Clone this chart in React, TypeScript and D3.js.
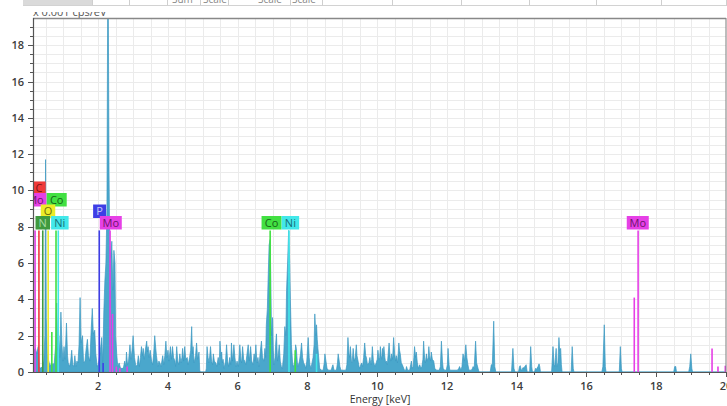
import React from 'react';
import * as d3 from 'd3';

const W = 727;
const H = 406;
const PLOT = { left: 33, right: 726, top: 18, bottom: 372 };

const X_DOMAIN: [number, number] = [0.13, 20];
const Y_DOMAIN: [number, number] = [0, 19.5];

const xTickValues = [2, 4, 6, 8, 10, 12, 14, 16, 18, 20];
const yTickValues = [0, 2, 4, 6, 8, 10, 12, 14, 16, 18];
const xTitle = 'Energy [keV]';
const yUnit = 'x 0.001 cps/eV';

// EDS spectrum [keV, counts (x0.001 cps/eV)]
const spectrumLow: [number, number][] = [
  [0.13, 0], [0.131, 1.3], [0.16, 1.2], [0.2, 1.3], [0.24, 1.0], [0.28, 1.4], [0.31, 0.3], [0.35, 0.2],
  [0.4, 0.3], [0.44, 0.6], [0.47, 2.0], [0.49, 11.7], [0.51, 3.0], [0.54, 1.0], [0.58, 0.6], [0.62, 0.3],
  [0.66, 0.5], [0.7, 0.4], [0.74, 0.5], [0.78, 1.5], [0.81, 3.8], [0.84, 1.2], [0.87, 2.0], [0.9, 0.8],
  [0.93, 3.3], [0.96, 1.5], [0.99, 0.6], [1.02, 1.4], [1.05, 0.7], [1.09, 2.7], [1.12, 0.9], [1.14, 0.5],
  [1.18, 0.3], [1.21, 0.6], [1.24, 1.2], [1.27, 0.4], [1.3, 0.3], [1.33, 0.9], [1.36, 0.3], [1.39, 0.6],
  [1.42, 0.5], [1.45, 1.5], [1.48, 4.1], [1.51, 1.6], [1.55, 2.0], [1.58, 0.5], [1.62, 0.6], [1.65, 1.2],
  [1.69, 1.8], [1.72, 0.9], [1.76, 0.6], [1.8, 2.4], [1.83, 3.5], [1.86, 2.1], [1.9, 2.3], [1.93, 1.0],
  [1.97, 0.3], [2.0, 0.4], [2.05, 1.0], [2.1, 1.9], [2.13, 0.5], [2.16, 3.3], [2.19, 5.0], [2.22, 6.0],
  [2.25, 9.0], [2.27, 19.8], [2.29, 19.8], [2.31, 11.0], [2.33, 7.0], [2.36, 6.3], [2.39, 7.2], [2.42, 4.5],
  [2.45, 6.7], [2.48, 6.0], [2.5, 2.0], [2.53, 1.0], [2.56, 0.3], [2.6, 0.5], [2.64, 0.2], [2.68, 0.2],
  [2.72, 0.2], [2.76, 0.6], [2.79, 0.3], [2.81, 1.1], [2.84, 0.4], [2.87, 0.6], [2.91, 1.5], [2.94, 0.7],
  [2.97, 1.2], [3.0, 2.0], [3.04, 0.8], [3.08, 0.3], [3.12, 0.4], [3.15, 0.9], [3.18, 0.3], [3.21, 0.8],
  [3.24, 1.4], [3.27, 0.9], [3.29, 1.3], [3.32, 0.7], [3.35, 1.2], [3.39, 1.7], [3.41, 1.1], [3.43, 1.4],
  [3.46, 0.8], [3.49, 1.2], [3.53, 0.6], [3.56, 0.4], [3.59, 1.0], [3.62, 2.0], [3.65, 1.3], [3.67, 0.9],
  [3.71, 0.3], [3.74, 0.6], [3.77, 0.5], [3.8, 0.3], [3.85, 0.9], [3.88, 0.4], [3.91, 0.9], [3.94, 1.7],
  [3.97, 0.8], [4.0, 1.2], [4.03, 0.6], [4.07, 1.4], [4.1, 0.7], [4.13, 1.4], [4.16, 0.8], [4.2, 0.6],
  [4.22, 0.3], [4.25, 1.4], [4.28, 0.6], [4.31, 0.4], [4.34, 1.0], [4.37, 0.5], [4.4, 0.8], [4.42, 1.3],
  [4.45, 0.6], [4.48, 1.4], [4.51, 0.7], [4.55, 0.8], [4.58, 0.4], [4.62, 0.8], [4.65, 1.2], [4.68, 2.5],
  [4.7, 1.0], [4.72, 1.4], [4.75, 0.5], [4.79, 0.9], [4.82, 1.6], [4.85, 0.7], [4.89, 1.1], [4.91, 0.1],
  [4.93, 0], [5.08, 0],
];

const spectrumMid: [number, number][] = [
  [5.1, 0.2], [5.12, 1.4], [5.15, 0.8], [5.18, 0.5], [5.22, 1.4], [5.25, 0.6], [5.28, 0.4], [5.3, 1.0],
  [5.33, 0.6], [5.37, 0.5], [5.4, 0.3], [5.44, 0.8], [5.47, 0.4], [5.49, 1.7], [5.52, 0.9], [5.54, 1.1],
  [5.56, 0.5], [5.58, 0.7], [5.61, 0.2], [5.65, 0.6], [5.68, 1.5], [5.71, 0.6], [5.74, 0.3], [5.77, 0.8],
  [5.8, 0.4], [5.82, 1.6], [5.85, 0.6], [5.89, 1.5], [5.92, 0.8], [5.95, 0.3], [5.98, 0.6], [6.02, 0.3],
  [6.06, 1.5], [6.09, 0.7], [6.11, 0.5], [6.14, 1.4], [6.17, 0.7], [6.2, 0.6], [6.23, 0.4], [6.26, 0.9],
  [6.3, 1.5], [6.33, 0.6], [6.37, 1.4], [6.4, 0.6], [6.44, 0.4], [6.47, 1.0], [6.49, 0.6], [6.52, 1.5],
  [6.55, 0.5], [6.58, 0.8], [6.61, 0.3], [6.64, 1.0], [6.68, 1.7], [6.71, 0.8], [6.75, 0.6], [6.78, 1.3],
  [6.8, 0.8], [6.82, 2.6], [6.85, 3.5], [6.87, 5.0], [6.9, 7.0], [6.93, 7.3], [6.95, 5.0], [6.97, 2.0],
  [7.0, 3.0], [7.02, 1.2], [7.04, 0.4], [7.07, 0.8], [7.09, 1.6], [7.11, 2.1], [7.14, 0.6], [7.17, 1.1],
  [7.19, 1.5], [7.22, 0.6], [7.25, 0.3], [7.28, 0.2], [7.32, 1.0], [7.35, 2.5], [7.38, 2.0], [7.4, 4.5],
  [7.43, 6.0], [7.46, 7.8], [7.49, 6.0], [7.51, 4.0], [7.54, 1.5], [7.57, 0.6], [7.59, 0.3], [7.62, 0.4],
  [7.64, 0.8], [7.66, 1.5], [7.68, 1.3], [7.71, 0.5], [7.73, 0.3], [7.77, 0.6], [7.8, 1.0], [7.83, 1.6],
  [7.86, 0.8], [7.89, 0.5], [7.92, 0.4], [7.95, 0.2], [7.98, 0.6], [8.02, 1.9], [8.05, 0.8], [8.07, 0.4],
  [8.1, 0.2], [8.13, 0.5], [8.16, 0.8], [8.19, 1.5], [8.21, 3.2], [8.24, 2.0], [8.26, 2.6], [8.28, 1.8],
  [8.3, 1.3], [8.33, 0.6], [8.35, 0.2], [8.4, 0.1], [8.45, 0.1], [8.48, 0.5], [8.5, 1.0], [8.53, 0.6],
  [8.56, 0.2], [8.6, 0.1], [8.68, 0.1], [8.71, 0.3], [8.73, 0.4], [8.76, 0.1], [8.83, 0.1], [8.86, 0.5],
  [8.88, 1.0], [8.91, 0.6], [8.93, 0.3], [8.96, 0.1], [9.1, 0.1], [9.13, 0.4], [9.16, 1.9], [9.19, 1.0],
  [9.21, 0.8], [9.23, 1.4], [9.26, 0.6], [9.28, 0.5], [9.31, 1.3], [9.34, 0.6], [9.37, 0.8], [9.4, 1.5],
  [9.42, 0.9], [9.45, 0.6], [9.48, 0.3], [9.5, 0.2], [9.53, 0.4], [9.55, 0.5], [9.58, 0.3], [9.61, 0.8],
  [9.64, 1.6], [9.67, 0.9], [9.69, 0.8], [9.72, 0.4], [9.76, 0.5], [9.79, 0.8], [9.82, 0.4], [9.84, 0.7],
  [9.86, 1.4], [9.89, 0.6], [9.93, 0.3], [9.97, 0.5],
];

const spectrumHigh: [number, number][] = [
  [10.0, 0.7], [10.02, 1.2], [10.05, 0.7], [10.07, 0.8], [10.09, 1.4], [10.11, 0.9], [10.13, 0.7], [10.15, 1.3],
  [10.17, 0.9], [10.19, 1.4], [10.22, 0.8], [10.24, 0.5], [10.26, 0.6], [10.29, 0.4], [10.31, 0.9], [10.34, 1.6],
  [10.37, 0.8], [10.39, 0.6], [10.41, 1.0], [10.44, 0.7], [10.47, 1.9], [10.5, 1.0], [10.53, 0.6], [10.55, 0.9],
  [10.58, 0.5], [10.6, 1.0], [10.62, 1.6], [10.64, 1.2], [10.66, 1.0], [10.69, 0.5], [10.72, 0.4], [10.74, 0.3],
  [10.78, 0.1], [10.82, 0.1], [10.84, 0.3], [10.87, 0.1], [10.93, 0.1], [10.96, 0.4], [10.98, 0.6], [11.0, 0.2],
  [11.03, 0.3], [11.05, 0.8], [11.07, 1.4], [11.1, 0.8], [11.12, 1.1], [11.15, 0.5], [11.18, 0.2], [11.22, 0.4],
  [11.25, 0.2], [11.28, 0.3], [11.31, 0.7], [11.33, 1.7], [11.36, 0.7], [11.38, 0.5], [11.41, 1.0], [11.43, 0.6],
  [11.46, 0.8], [11.48, 1.4], [11.5, 0.9], [11.53, 0.6], [11.55, 1.1], [11.58, 0.7], [11.62, 0.6], [11.65, 0.2],
  [11.7, 0.1], [11.78, 0.1], [11.81, 0.3], [11.84, 1.7], [11.87, 0.6], [11.89, 0.2], [11.93, 0.1], [11.98, 0.1],
  [12.01, 0.4], [12.03, 1.3], [12.06, 0.4], [12.08, 0.1], [12.2, 0.1], [12.3, 0.1], [12.34, 0.2], [12.36, 0.3],
  [12.4, 0.1], [12.43, 0.3], [12.46, 1.0], [12.5, 0.6], [12.54, 1.5], [12.57, 0.8], [12.6, 0.4], [12.63, 0.1],
  [12.7, 0.1], [12.73, 0.2], [12.75, 0.3], [12.78, 0.2], [12.82, 1.7], [12.85, 0.5], [12.89, 0.2], [12.92, 0],
  [13.24, 0], [13.27, 0.4], [13.3, 0.4], [13.34, 2.8], [13.37, 0.3], [13.4, 0],
  [13.85, 0], [13.89, 1.3], [13.92, 0.2], [13.95, 0],
  [14.05, 0], [14.08, 0.3], [14.1, 0.35], [14.13, 0.1], [14.16, 0.15], [14.18, 0.25], [14.21, 0.2], [14.23, 0.3],
  [14.25, 0.35], [14.27, 0.4], [14.3, 0],
  [14.37, 0], [14.4, 1.4], [14.43, 0.3], [14.45, 0],
  [14.51, 0], [14.54, 0.2], [14.56, 0.15], [14.58, 0.2], [14.61, 0.3], [14.64, 0.45], [14.66, 0.3], [14.68, 0],
  [15.0, 0], [15.04, 1.4], [15.07, 0.4], [15.09, 0.3], [15.11, 0.8], [15.13, 1.3], [15.15, 0.3], [15.18, 0.5],
  [15.21, 1.9], [15.23, 1.2], [15.26, 1.3], [15.28, 0.4], [15.3, 0],
  [15.56, 0], [15.59, 1.4], [15.62, 0.2], [15.64, 0],
  [16.44, 0], [16.47, 0.3], [16.51, 2.6], [16.54, 0.3], [16.56, 0],
  [16.94, 0], [16.97, 1.4], [17.0, 0.2], [17.02, 0],
  [18.5, 0], [18.53, 0.3], [18.56, 0.3], [18.58, 0],
  [18.93, 0], [18.96, 0.3], [18.99, 1.0], [19.02, 0.2], [19.04, 0], [20, 0],
];

const elementColors: Record<string, string> = {
  C: '#f03a3a',
  N: '#3f9a3f',
  O: '#ecec28',
  Co: '#42e042',
  Ni: '#42e8ea',
  P: '#3e3ee6',
  Mo: '#e640e6',
};

const elementTextColors: Record<string, string> = {
  C: '#7a1414',
  N: '#a6dca6',
  O: '#6e6e08',
  Co: '#166416',
  Ni: '#146e78',
  P: '#c4c4f6',
  Mo: '#6c146c',
};

// element marker lines: [element, keV, height]
const markerLines: [string, number, number][] = [
  ['P', 0.14, 7.8], ['Mo', 0.19, 7.8], ['C', 0.3, 7.8], ['N', 0.41, 7.8], ['O', 0.565, 7.8],
  ['Co', 0.67, 2.2], ['Co', 0.79, 7.8], ['Ni', 0.855, 7.8],
  ['P', 2.03, 7.8], ['P', 2.14, 0.5], ['Mo', 2.34, 7.8], ['Mo', 2.41, 3.2], ['Mo', 2.52, 0.3],
  ['Mo', 2.62, 0.2], ['Mo', 2.83, 0.3],
  ['Co', 6.93, 7.8], ['Co', 7.65, 1.2], ['Ni', 7.47, 7.8], ['Ni', 8.26, 1.0],
  ['Mo', 17.37, 4.1], ['Mo', 17.48, 7.8], ['Mo', 19.6, 1.3], ['Mo', 19.77, 0.3], ['Mo', 19.98, 0.35],
];

// labels: [element, keV centre, stack row]
const markerLabels: [string, number, number][] = [
  ['C', 0.3, 3], ['Mo', 0.2, 2], ['Co', 0.81, 2], ['O', 0.56, 1], ['N', 0.41, 0], ['Ni', 0.9, 0],
  ['P', 2.04, 1], ['Mo', 2.36, 0], ['Co', 6.97, 0], ['Ni', 7.51, 0], ['Mo', 17.47, 0],
];

const headerCells = [92, 129, 167, 200, 228, 290, 322, 392, 461, 529, 596, 661, 726];
const headerTexts: [string, number][] = [['Sum', 172], ['Scale', 203], ['Scale', 258], ['Scale', 292]];

const charW: Record<string, number> = { M: 9.5, o: 6.5, C: 7.5, N: 8.5, i: 3, P: 7, O: 8.5 };
const labelWidth = (s: string) => s.split('').reduce((a, c) => a + (charW[c] || 7), 0) + 6;

export default function App() {
  const x = d3.scaleLinear().domain(X_DOMAIN).range([PLOT.left, PLOT.right]);
  const y = d3.scaleLinear().domain(Y_DOMAIN).range([PLOT.bottom, PLOT.top]);

  const spectrum = [...spectrumLow, ...spectrumMid, ...spectrumHigh];
  const area = d3
    .area<[number, number]>()
    .x((d) => x(d[0]))
    .y0(y(0))
    .y1((d) => y(d[1]))
    .curve(d3.curveLinear);

  const gridX = d3.range(0.5, 20, 0.5);
  const gridY = d3.range(0.5, 19.5, 0.5);
  const minorX = d3.range(0.5, 20.01, 0.5);
  const minorY = d3.range(0, 19.5, 0.5);

  const font = "'Open Sans', 'DejaVu Sans', sans-serif";
  const rowTop = (r: number) => 216 - r * 11.5;
  const boxH = 13.5;

  return (
    <svg
      width={W}
      height={H}
      style={{ position: 'absolute', left: 0, top: 0, background: '#fff' }}
      fontFamily={font}
    >
      <defs>
        <clipPath id="plotClip">
          <rect x={PLOT.left} y={PLOT.top} width={PLOT.right - PLOT.left} height={PLOT.bottom - PLOT.top} />
        </clipPath>
        <clipPath id="topClip">
          <rect x={0} y={0} width={W} height={5} />
        </clipPath>
        <clipPath id="unitClip">
          <rect x={0} y={12} width={W} height={6} />
        </clipPath>
      </defs>

      {/* header table strip (cut off) */}
      <rect x={23} y={0} width={69} height={5} fill="#dadada" />
      <line x1={23} x2={W} y1={5.5} y2={5.5} stroke="#d2d2d2" />
      {headerCells.map((cx) => (
        <line key={cx} x1={cx + 0.5} x2={cx + 0.5} y1={0} y2={5.5} stroke="#cfcfcf" />
      ))}
      <g clipPath="url(#topClip)">
        {headerTexts.map(([t, tx], i) => (
          <text key={i} x={tx} y={2.5} fontSize={10} fill="#888">
            {t}
          </text>
        ))}
      </g>

      {/* unit label (cut off) */}
      <g clipPath="url(#unitClip)">
        <text x={33} y={16} fontSize={11} fill="#555">
          {yUnit}
        </text>
      </g>

      {/* grid */}
      <g stroke="#ebebeb" strokeWidth={1}>
        {gridX.map((v) => (
          <line key={'gx' + v} x1={Math.round(x(v)) + 0.5} x2={Math.round(x(v)) + 0.5} y1={PLOT.top} y2={PLOT.bottom} />
        ))}
        {gridY.map((v) => (
          <line key={'gy' + v} x1={PLOT.left} x2={PLOT.right} y1={Math.round(y(v)) + 0.5} y2={Math.round(y(v)) + 0.5} />
        ))}
      </g>

      <g clipPath="url(#plotClip)">
        {/* spectrum */}
        <path d={area(spectrum) || ''} fill="#4aa7cc" stroke="#3b98c1" strokeWidth={0.7} />

        {/* element marker lines */}
        {markerLines.map(([el, e, h], i) => (
          <line
            key={'ml' + i}
            x1={x(e)}
            x2={x(e)}
            y1={y(0)}
            y2={y(h)}
            stroke={elementColors[el]}
            strokeWidth={1.6}
          />
        ))}

        {/* element labels */}
        {markerLabels.map(([el, e, row], i) => {
          const w = labelWidth(el);
          const cx = x(e);
          const top = rowTop(row);
          return (
            <g key={'lb' + i}>
              <rect x={cx - w / 2} y={top} width={w} height={boxH} fill={elementColors[el]} />
              <text
                x={cx}
                y={top + boxH / 2 + 4}
                textAnchor="middle"
                fontSize={11}
                fill={elementTextColors[el]}
              >
                {el}
              </text>
            </g>
          );
        })}
      </g>

      {/* frame */}
      <rect
        x={PLOT.left + 0.5}
        y={PLOT.top + 0.5}
        width={PLOT.right - PLOT.left - 0.5}
        height={PLOT.bottom - PLOT.top}
        fill="none"
        stroke="#7a7a7a"
        strokeWidth={1}
      />
      <line x1={PLOT.left} x2={PLOT.right} y1={PLOT.top + 0.5} y2={PLOT.top + 0.5} stroke="#888" strokeWidth={1.5} />
      <line x1={PLOT.left + 0.5} x2={PLOT.left + 0.5} y1={PLOT.top} y2={PLOT.bottom + 1} stroke="#555" strokeWidth={1.2} />
      <line x1={PLOT.left} x2={PLOT.right} y1={PLOT.bottom + 0.5} y2={PLOT.bottom + 0.5} stroke="#555" strokeWidth={1.2} />

      {/* ticks */}
      <g stroke="#555">
        {minorY.map((v) => (
          <line key={'ty' + v} x1={PLOT.left - (v % 2 === 0 ? 5 : 3)} x2={PLOT.left} y1={Math.round(y(v)) + 0.5} y2={Math.round(y(v)) + 0.5} />
        ))}
        {minorX.map((v) => (
          <line key={'tx' + v} x1={Math.round(x(v)) + 0.5} x2={Math.round(x(v)) + 0.5} y1={PLOT.bottom} y2={PLOT.bottom + (v % 2 === 0 ? 5 : 3)} />
        ))}
      </g>
      {yTickValues.map((v) => (
        <text key={'yl' + v} x={24} y={y(v) + 4} textAnchor="end" fontSize={11} fontWeight={600} fill="#3c3c3c">
          {v}
        </text>
      ))}
      {xTickValues.map((v) => (
        <text key={'xl' + v} x={x(v)} y={390} textAnchor="middle" fontSize={11} fontWeight={600} fill="#3c3c3c">
          {v}
        </text>
      ))}
      <text x={380} y={402.5} textAnchor="middle" fontSize={10.5} fill="#333">
        {xTitle}
      </text>
    </svg>
  );
}
